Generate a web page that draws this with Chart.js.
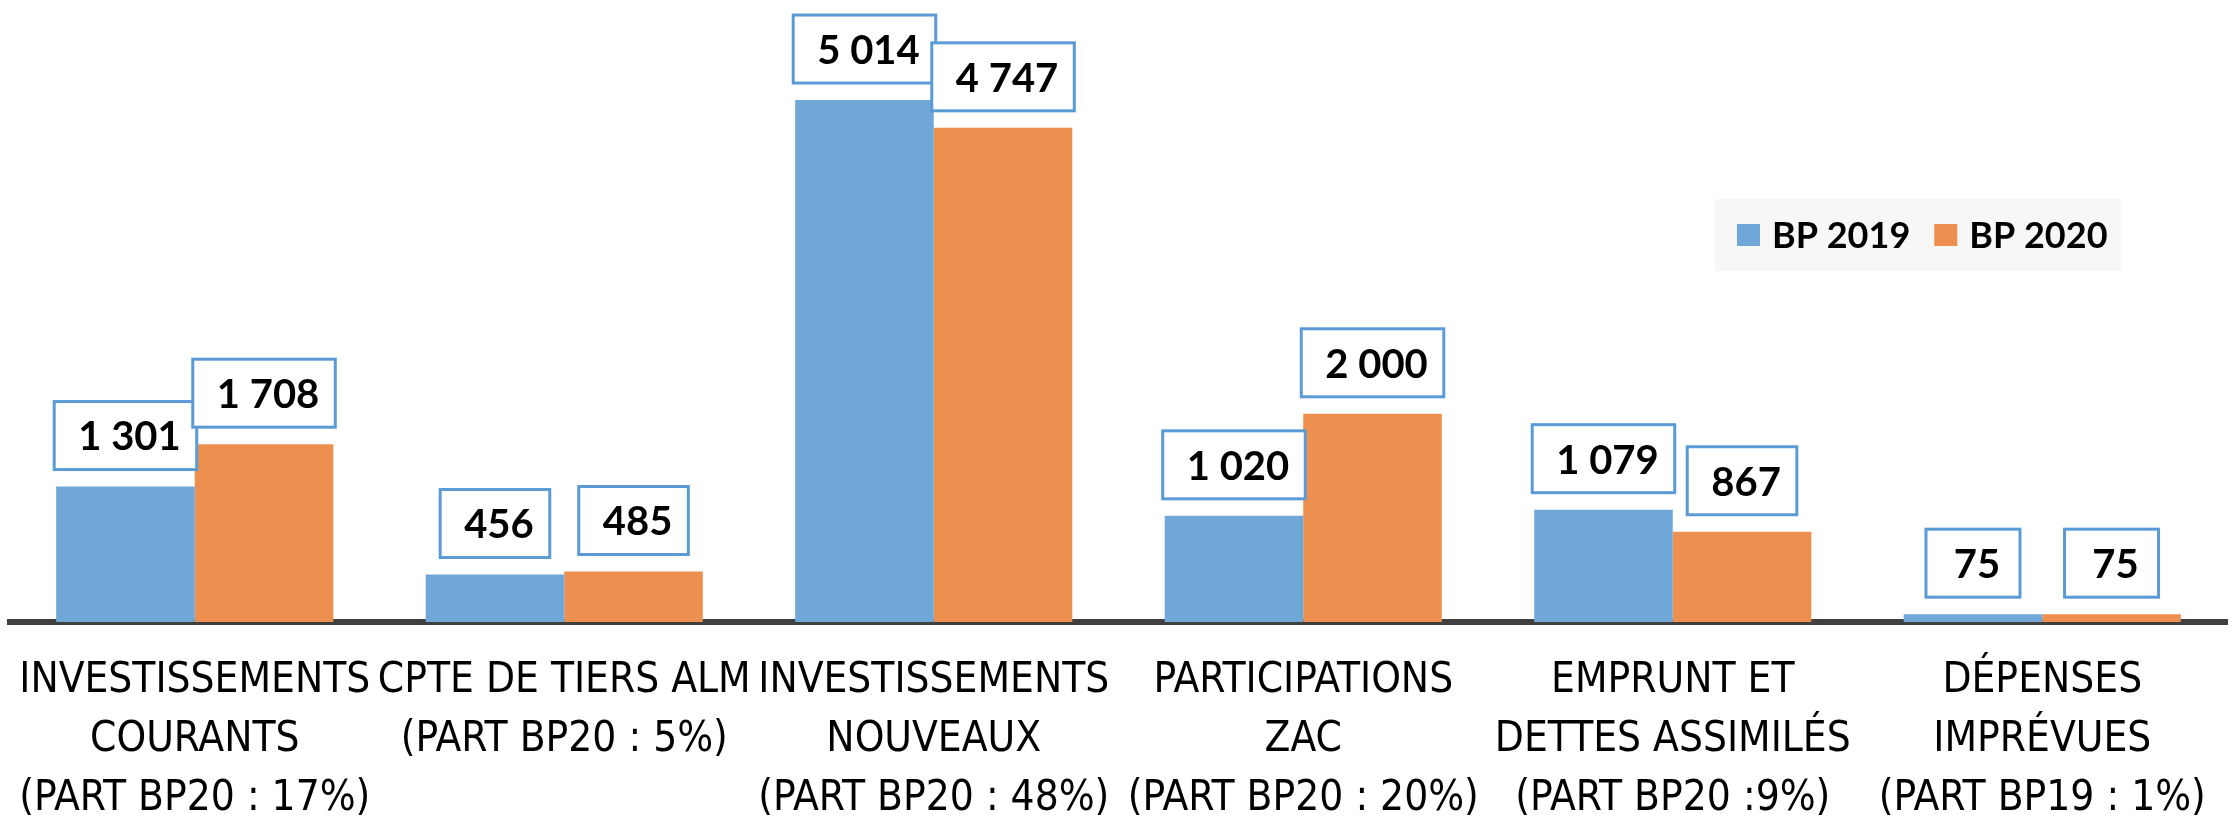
<!DOCTYPE html>
<html>
<head>
<meta charset="utf-8">
<script src="https://cdn.jsdelivr.net/npm/chart.js@4.4.1/dist/chart.umd.min.js"></script>
<style>
  html, body { margin: 0; padding: 0; background: #fff; }
  #wrap { position: relative; width: 2240px; height: 816px; }
</style>
</head>
<body>
<div id="wrap"><canvas id="budget-graph" width="2240" height="816"></canvas></div>
<script>
const categories = [
  ["INVESTISSEMENTS", "COURANTS", "(PART BP20 : 17%)"],
  ["CPTE DE TIERS ALM", "(PART BP20 : 5%)"],
  ["INVESTISSEMENTS", "NOUVEAUX", "(PART BP20 : 48%)"],
  ["PARTICIPATIONS", "ZAC", "(PART BP20 : 20%)"],
  ["EMPRUNT ET", "DETTES ASSIMILÉS", "(PART BP20 :9%)"],
  ["DÉPENSES", "IMPRÉVUES", "(PART BP19 : 1%)"],
];
const seriesNames = ["BP 2019", "BP 2020"];
const bp2019 = [1301, 456, 5014, 1020, 1079, 75];
const bp2020 = [1708, 485, 4747, 2000, 867, 75];

const blue = "#70A7D9";
const orange = "#ED8F4F";
const labelFont = "'Liberation Sans Narrow', 'DejaVu Sans Condensed', sans-serif";

// value boxes drawn above each bar
const valueBoxes = {
  id: "valueBoxes",
  afterDatasetsDraw(chart) {
    const ctx = chart.ctx;
    ctx.save();
    ctx.font = "bold 40px Lato, sans-serif";
    ctx.textAlign = "center";
    ctx.textBaseline = "middle";
    chart.data.datasets.forEach((ds, di) => {
      const meta = chart.getDatasetMeta(di);
      meta.data.forEach((bar, i) => {
        const txt = ds.data[i].toLocaleString("fr-FR").replace(/\s/g, " ");
        const tw = ctx.measureText(txt).width;
        const w = Math.max(tw + 40, 94);
        const h = 68;
        const x = bar.x - w / 2;
        const y = bar.y - 17 - h;
        ctx.fillStyle = "#fff";
        ctx.fillRect(x, y, w, h);
        ctx.lineWidth = 3;
        ctx.strokeStyle = "#5B9BD5";
        ctx.strokeRect(x, y, w, h);
        ctx.fillStyle = "#000";
        ctx.fillText(txt, bar.x + 4, y + h / 2 + 2);
      });
    });
    ctx.restore();
  },
};

// legend box in the upper right
const boxLegend = {
  id: "boxLegend",
  afterDraw(chart) {
    const ctx = chart.ctx;
    ctx.save();
    ctx.fillStyle = "#F7F7F7";
    ctx.fillRect(1715, 199, 406, 72);
    ctx.font = "bold 36px Lato, sans-serif";
    ctx.textBaseline = "middle";
    let x = 1737;
    chart.data.datasets.forEach((ds) => {
      ctx.fillStyle = ds.backgroundColor;
      ctx.fillRect(x, 224, 23, 22);
      ctx.fillStyle = "#000";
      ctx.fillText(ds.label, x + 35, 236);
      x += 35 + ctx.measureText(ds.label).width + 24;
    });
    ctx.restore();
  },
};

new Chart(document.getElementById("budget-graph").getContext("2d"), {
  type: "bar",
  data: {
    labels: categories,
    datasets: [
      { label: seriesNames[0], data: bp2019, backgroundColor: blue },
      { label: seriesNames[1], data: bp2020, backgroundColor: orange },
    ],
  },
  options: {
    responsive: false,
    animation: false,
    layout: { padding: { top: 13, left: 10, right: 13, bottom: 0 } },
    datasets: {
      bar: { categoryPercentage: 0.75, barPercentage: 1.0 },
    },
    plugins: {
      legend: { display: false },
      tooltip: { enabled: false },
    },
    scales: {
      x: {
        grid: { display: false, drawTicks: false },
        border: { display: true, color: "#404040", width: 6 },
        ticks: {
          color: "#000",
          font: { family: labelFont, size: 42, lineHeight: 1.4 },
          padding: 30,
          maxRotation: 0,
          autoSkip: false,
        },
        afterFit(scale) {
          scale.height = 194;
          scale.paddingLeft = 0;
          scale.paddingRight = 0;
        },
      },
      y: {
        display: false,
        beginAtZero: true,
        min: 0,
        max: 5850,
      },
    },
  },
  plugins: [valueBoxes, boxLegend],
});
</script>
</body>
</html>
